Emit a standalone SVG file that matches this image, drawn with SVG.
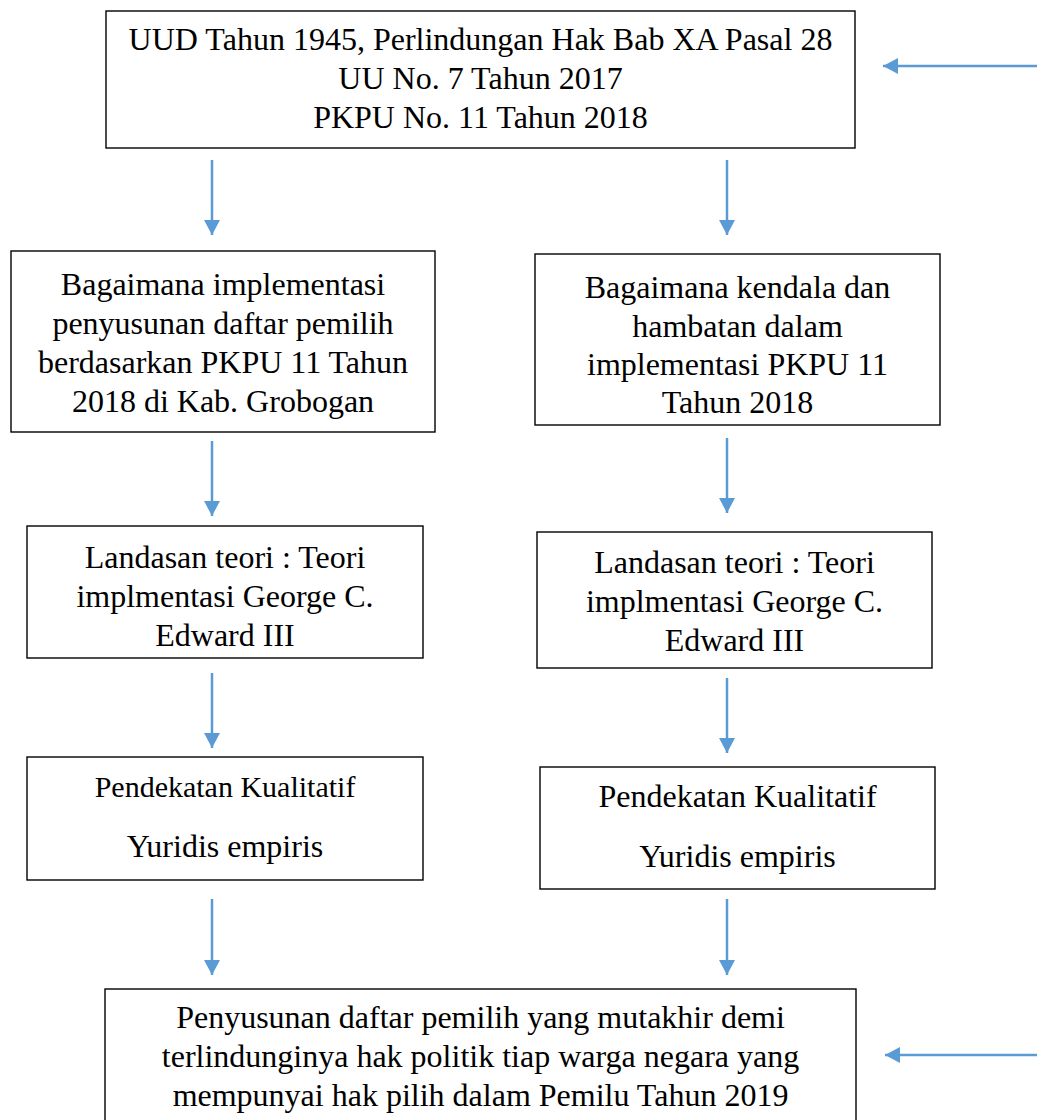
<svg xmlns="http://www.w3.org/2000/svg" width="1037" height="1120" viewBox="0 0 1037 1120">
<style>
.box{fill:#fff;stroke:#000;stroke-width:1.4}
.t{font-family:"Liberation Serif","Times New Roman",serif;font-size:32px;fill:#000;text-anchor:middle}
.s{font-size:30px}
.c{stroke:#5B9BD5;stroke-width:2.5;fill:none;marker-end:url(#ah)}
</style>
<defs>
<marker id="ah" markerUnits="userSpaceOnUse" markerWidth="16" markerHeight="16" refX="15" refY="8" orient="auto" viewBox="0 0 16 16">
<path d="M0,0 L15,8 L0,16 z" fill="#5B9BD5"/>
</marker>
</defs>
<rect width="1037" height="1120" fill="#fff"/>
<g id="connectors">
<line class="c" x1="1037" y1="66" x2="883" y2="66"/>
<line class="c" x1="212" y1="160" x2="212" y2="235"/>
<line class="c" x1="727" y1="160" x2="727" y2="235"/>
<line class="c" x1="212" y1="441" x2="212" y2="516"/>
<line class="c" x1="727" y1="438" x2="727" y2="513"/>
<line class="c" x1="212" y1="673" x2="212" y2="748"/>
<line class="c" x1="727" y1="678" x2="727" y2="753"/>
<line class="c" x1="212" y1="899" x2="212" y2="975"/>
<line class="c" x1="727" y1="899" x2="727" y2="975"/>
<line class="c" x1="1037" y1="1055" x2="885" y2="1055"/>
</g>
<g id="node-dasar-hukum">
<rect class="box" x="106" y="11" width="749" height="137"/>
<text class="t" x="480.5" y="50">UUD Tahun 1945, Perlindungan Hak Bab XA Pasal 28</text>
<text class="t" x="480.5" y="89">UU No. 7 Tahun 2017</text>
<text class="t" x="480.5" y="128">PKPU No. 11 Tahun 2018</text>
</g>
<g id="node-rumusan-1">
<rect class="box" x="11" y="251" width="424" height="181"/>
<text class="t" x="223" y="295">Bagaimana implementasi</text>
<text class="t" x="223" y="334">penyusunan daftar pemilih</text>
<text class="t" x="223" y="373">berdasarkan PKPU 11 Tahun</text>
<text class="t" x="223" y="412">2018 di Kab. Grobogan</text>
</g>
<g id="node-rumusan-2">
<rect class="box" x="535" y="254" width="405" height="171"/>
<text class="t" x="737.5" y="298">Bagaimana kendala dan</text>
<text class="t" x="737.5" y="337">hambatan dalam</text>
<text class="t" x="737.5" y="375">implementasi PKPU 11</text>
<text class="t" x="737.5" y="413">Tahun 2018</text>
</g>
<g id="node-teori-1">
<rect class="box" x="27" y="526" width="396" height="132"/>
<text class="t" x="225" y="568">Landasan teori : Teori</text>
<text class="t" x="225" y="607">implmentasi George C.</text>
<text class="t" x="225" y="646">Edward III</text>
</g>
<g id="node-teori-2">
<rect class="box" x="537" y="532" width="395" height="136"/>
<text class="t" x="734.5" y="573">Landasan teori : Teori</text>
<text class="t" x="734.5" y="612">implmentasi George C.</text>
<text class="t" x="734.5" y="651">Edward III</text>
</g>
<g id="node-pendekatan-1">
<rect class="box" x="27" y="757" width="396" height="123"/>
<text class="t s" x="225" y="797">Pendekatan Kualitatif</text>
<text class="t" x="225" y="857">Yuridis empiris</text>
</g>
<g id="node-pendekatan-2">
<rect class="box" x="540" y="767" width="395" height="122"/>
<text class="t" x="737.5" y="807">Pendekatan Kualitatif</text>
<text class="t" x="737.5" y="867">Yuridis empiris</text>
</g>
<g id="node-hasil">
<rect class="box" x="105" y="989" width="751" height="140"/>
<text class="t" x="480.5" y="1028">Penyusunan daftar pemilih yang mutakhir demi</text>
<text class="t" x="480.5" y="1067">terlindunginya hak politik tiap warga negara yang</text>
<text class="t" x="480.5" y="1106">mempunyai hak pilih dalam Pemilu Tahun 2019</text>
</g>
</svg>
